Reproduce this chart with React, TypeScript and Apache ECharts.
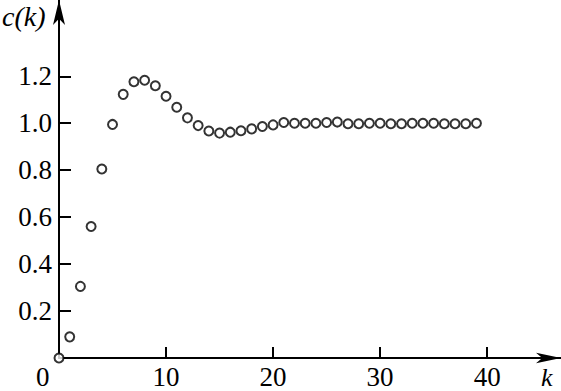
import React, { useEffect, useRef } from "react";
import * as echarts from "echarts";

const kValues: number[] = Array.from({ length: 40 }, (_, i) => i);
const cValues: number[] = [
  0, 0.09, 0.305, 0.56, 0.805, 0.995, 1.123, 1.177, 1.183, 1.16,
  1.115, 1.068, 1.023, 0.99, 0.967, 0.958, 0.962, 0.968, 0.976, 0.986,
  0.993, 1.003, 1.0, 1.0, 1.0, 1.003, 1.005, 0.998, 0.998, 1.0,
  1.0, 0.998, 0.998, 1.0, 1.0, 1.0, 0.998, 0.998, 0.998, 1.0,
];
const xTicks = [10, 20, 30, 40];
const yTicks = [0.2, 0.4, 0.6, 0.8, 1.0, 1.2];

const FONT = "Liberation Serif";

export default function App() {
  const ref = useRef<HTMLDivElement>(null);
  useEffect(() => {
    if (!ref.current) return;
    const chart = echarts.init(ref.current, undefined, { renderer: "svg" });
    chart.setOption({
      animation: false,
      grid: { left: 59, right: 0, top: 0, bottom: 33, containLabel: false },
      xAxis: {
        type: "value",
        min: 0,
        max: 46.9,
        interval: 10,
        axisLine: {
          show: true,
          lineStyle: { color: "#000", width: 2 },
          symbol: ["none", "arrow"],
          symbolSize: [8, 25],
        },
        axisTick: {
          show: true,
          inside: true,
          length: 11,
          customValues: xTicks,
          lineStyle: { color: "#000", width: 2 },
        },
        splitLine: { show: false },
        axisLabel: {
          color: "#000",
          fontFamily: FONT,
          fontSize: 27,
          margin: 5,
          customValues: xTicks,
          formatter: (v: number) => String(v),
        },
      },
      yAxis: {
        type: "value",
        min: 0,
        max: 1.525,
        interval: 0.2,
        axisLine: {
          show: true,
          lineStyle: { color: "#000", width: 2 },
          symbol: ["none", "arrow"],
          symbolSize: [9, 25],
        },
        axisTick: {
          show: true,
          inside: true,
          length: 12,
          customValues: yTicks,
          lineStyle: { color: "#000", width: 2 },
        },
        splitLine: { show: false },
        axisLabel: {
          color: "#000",
          fontFamily: FONT,
          fontSize: 27,
          margin: 7,
          customValues: yTicks,
          formatter: (v: number) => v.toFixed(1),
        },
      },
      graphic: [
        {
          type: "text",
          left: 36,
          top: 363,
          style: { text: "0", fontFamily: FONT, fontSize: 27, fill: "#000" },
        },
        {
          type: "text",
          left: 2,
          top: 2,
          style: {
            text: "c(k)",
            fontFamily: FONT,
            fontStyle: "italic",
            fontSize: 28,
            fill: "#000",
          },
        },
        {
          type: "text",
          left: 541,
          top: 364,
          style: { text: "k", fontFamily: FONT, fontStyle: "italic", fontSize: 26, fill: "#000" },
        },
      ],
      series: [
        {
          type: "scatter",
          data: kValues.map((k, i) => [k, cValues[i]]),
          symbol: "circle",
          symbolSize: 9,
          itemStyle: { color: "#fff", borderColor: "#000", borderWidth: 2 },
          z: 5,
        },
      ],
    });
    return () => chart.dispose();
  }, []);
  return <div ref={ref} style={{ width: 561, height: 391, position: "absolute", left: 0, top: 0 }} />;
}
